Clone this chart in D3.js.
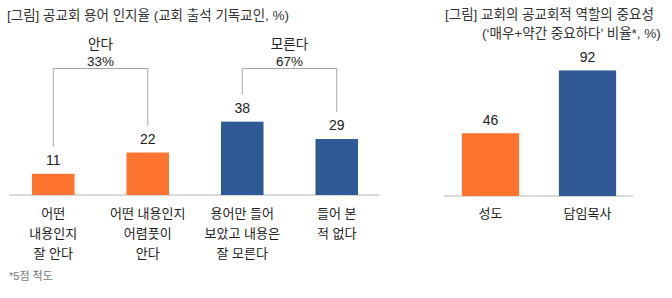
<!DOCTYPE html>
<html>
<head>
<meta charset="utf-8">
<script src="https://cdn.jsdelivr.net/npm/d3@7"></script>
<style>
  body { margin: 0; background: #fff; }
  svg { display: block; font-family: "Liberation Sans", "Noto Sans CJK KR", sans-serif; }
</style>
</head>
<body>
<svg id="chart" width="672" height="298"></svg>
<script>
// left chart data
var awareCats = ["어떤\n내용인지\n잘 안다", "어떤 내용인지\n어렴풋이\n안다", "용어만 들어\n보았고 내용은\n잘 모른다", "들어 본\n적 없다"];
var awareVals = [11, 22, 38, 29];
var awareGroup = ["know", "know", "dontknow", "dontknow"];
var groupLabels = [{name: "안다", pct: "33%", from: 0, to: 1}, {name: "모른다", pct: "67%", from: 2, to: 3}];

// right chart data
var roleCats = ["성도", "담임목사"];
var roleVals = [46, 92];

var orange = "#FF7430";
var blue = "#2F5A96";
var textColor = "#222";

var svg = d3.select("svg#chart");

// titles
svg.append("text")
  .attr("x", 7).attr("y", 20)
  .style("font-size", "13.5px").style("fill", "#333")
  .text("[그림] 공교회 용어 인지율 (교회 출석 기독교인, %)");

var rt = svg.append("text")
  .style("font-size", "13.5px").style("fill", "#333");
rt.append("tspan").attr("x", 445).attr("y", 19).text("[그림] 교회의 공교회적 역할의 중요성");
rt.append("tspan").attr("x", 482).attr("y", 38).text("(‘매우+약간 중요하다’ 비율*, %)");

// ---- left chart ----
var x1 = d3.scaleBand()
  .domain(d3.range(awareVals.length))
  .range([6, 384])
  .paddingInner(0.55)
  .paddingOuter(0.275);

var y1 = d3.scaleLinear().domain([0, 100]).range([195, 2]);

svg.append("line")
  .attr("x1", 9).attr("x2", 379)
  .attr("y1", 195).attr("y2", 195)
  .style("stroke", "#D9D9D9").style("stroke-width", 2);

svg.selectAll(".bar1")
  .data(awareVals)
  .enter().append("rect")
  .attr("class", "bar1")
  .attr("x", function(d, i) { return x1(i); })
  .attr("y", function(d) { return y1(d); })
  .attr("width", x1.bandwidth())
  .attr("height", function(d) { return y1(0) - y1(d); })
  .style("fill", function(d, i) { return awareGroup[i] == "know" ? orange : blue; });

svg.selectAll(".val1")
  .data(awareVals)
  .enter().append("text")
  .attr("class", "val1")
  .attr("x", function(d, i) { return x1(i) + x1.bandwidth() / 2; })
  .attr("y", function(d) { return y1(d) - 9; })
  .attr("text-anchor", "middle")
  .style("font-size", "14px").style("fill", textColor)
  .text(function(d) { return d; });

var cat1 = svg.selectAll(".cat1")
  .data(awareCats)
  .enter().append("text")
  .attr("class", "cat1")
  .attr("text-anchor", "middle")
  .style("font-size", "13px").style("fill", textColor);

cat1.each(function(d, i) {
  var t = d3.select(this);
  d.split("\n").forEach(function(line, j) {
    t.append("tspan")
      .attr("x", x1(i) + x1.bandwidth() / 2)
      .attr("y", 218 + j * 20)
      .text(line);
  });
});

// brackets over groups
var bracketY = 68.5;
groupLabels.forEach(function(g) {
  var xa = x1(g.from) + x1.bandwidth() / 2;
  var xb = x1(g.to) + x1.bandwidth() / 2;
  var ya = y1(awareVals[g.from]) - 27;
  var yb = y1(awareVals[g.to]) - 27;
  svg.append("path")
    .attr("d", "M" + xa + "," + ya + "V" + bracketY + "H" + xb + "V" + yb)
    .style("fill", "none").style("stroke", "#A6A6A6").style("stroke-width", 1);
  var xm = (xa + xb) / 2;
  var gl = svg.append("text")
    .attr("text-anchor", "middle")
    .style("font-size", "13.5px").style("fill", textColor);
  gl.append("tspan").attr("x", xm).attr("y", 49).text(g.name);
  gl.append("tspan").attr("x", xm).attr("y", 66).text(g.pct);
});

svg.append("text")
  .attr("x", 9).attr("y", 280)
  .style("font-size", "11px").style("fill", "#777")
  .text("*5점 척도");

// ---- right chart ----
var x2 = d3.scaleBand()
  .domain(roleCats)
  .range([442, 636])
  .paddingInner(0.41)
  .paddingOuter(0.205);

var y2 = d3.scaleLinear().domain([0, 100]).range([196, 59.5]);

svg.append("line")
  .attr("x1", 444).attr("x2", 633)
  .attr("y1", 196).attr("y2", 196)
  .style("stroke", "#D9D9D9").style("stroke-width", 2);

svg.selectAll(".bar2")
  .data(roleVals)
  .enter().append("rect")
  .attr("class", "bar2")
  .attr("x", function(d, i) { return x2(roleCats[i]); })
  .attr("y", function(d) { return y2(d); })
  .attr("width", x2.bandwidth())
  .attr("height", function(d) { return y2(0) - y2(d); })
  .style("fill", function(d, i) { return i == 0 ? orange : blue; });

svg.selectAll(".val2")
  .data(roleVals)
  .enter().append("text")
  .attr("class", "val2")
  .attr("x", function(d, i) { return x2(roleCats[i]) + x2.bandwidth() / 2; })
  .attr("y", function(d) { return y2(d) - 8; })
  .attr("text-anchor", "middle")
  .style("font-size", "14px").style("fill", textColor)
  .text(function(d) { return d; });

svg.selectAll(".cat2")
  .data(roleCats)
  .enter().append("text")
  .attr("class", "cat2")
  .attr("x", function(d) { return x2(d) + x2.bandwidth() / 2; })
  .attr("y", 218)
  .attr("text-anchor", "middle")
  .style("font-size", "13px").style("fill", textColor)
  .text(function(d) { return d; });
</script>
</body>
</html>
